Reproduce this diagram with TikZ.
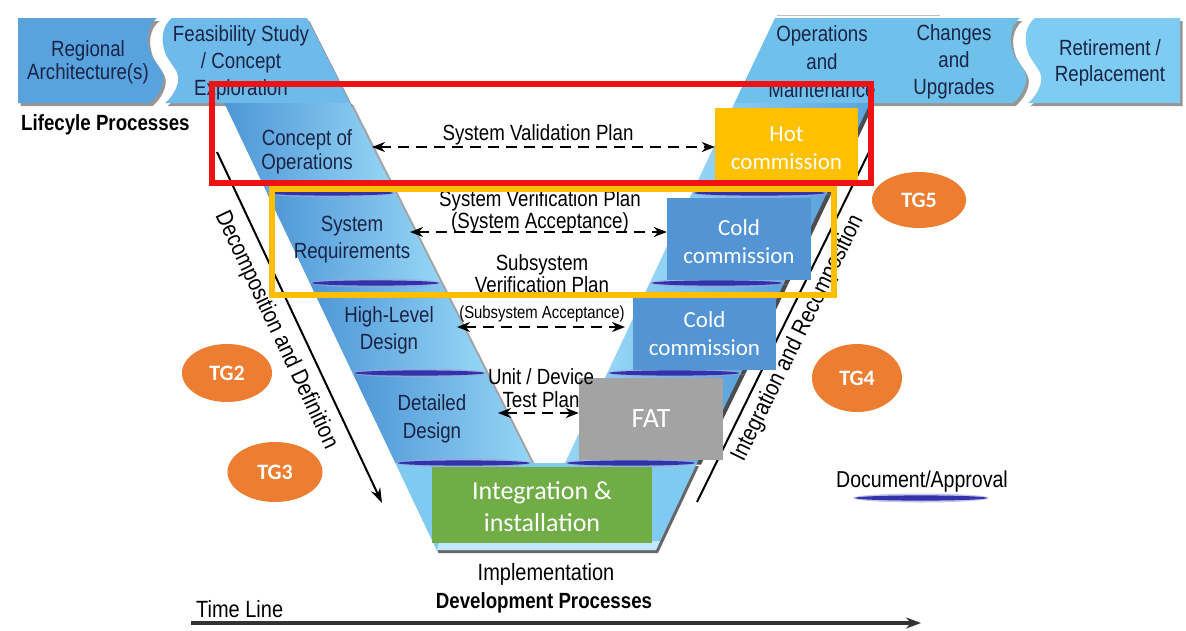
\documentclass[tikz,border=0pt]{standalone}
\usepackage{fontspec}
\setmainfont{Liberation Sans}[FakeStretch=0.85]
\newfontfamily\calibri{Carlito}
\usetikzlibrary{arrows.meta,shadows,shapes.geometric}

\definecolor{regBlue}{RGB}{88,162,222}
\definecolor{feasBlue}{RGB}{110,186,234}
\definecolor{opsBlue}{RGB}{112,192,236}
\definecolor{retBlue}{RGB}{126,204,241}
\definecolor{bandL}{RGB}{78,150,214}
\definecolor{bandR}{RGB}{150,214,246}
\definecolor{bandM}{RGB}{128,202,242}
\definecolor{navy}{RGB}{26,36,70}
\definecolor{docBlue}{RGB}{50,50,170}
\definecolor{hotY}{RGB}{255,192,0}
\definecolor{coldB}{RGB}{82,148,212}
\definecolor{fatG}{RGB}{163,163,163}
\definecolor{intG}{RGB}{112,173,71}
\definecolor{tgO}{RGB}{237,125,49}
\definecolor{frameRed}{RGB}{238,18,18}
\definecolor{frameGold}{RGB}{255,190,0}

% thin "document / approval" lens across a phase band
\newcommand\docmark[3]{%
  \fill[docBlue!45, opacity=.6] (#1,#2) ellipse [x radius=#3, y radius=4.5];
  \fill[docBlue] (#1,#2) ellipse [x radius={#3-2}, y radius=2.6];}
% invisible strut that lowers the text block inside a box
\newcommand\lowerstrut{\rule{0pt}{21pt}}

\tikzset{
  swave/.style={insert path={.. controls ({#1-10},26) and ({#1-12},40) .. ({#1-6},55)
      .. controls (#1,66) and ({#1+8},72) .. ({#1+6},82)
      .. controls ({#1+4},92) and ({#1-3},100) .. ({#1-7},103)}},
  banner/.style={drop shadow={shadow xshift=2.5pt,shadow yshift=-3pt,opacity=.55,fill=black!75}},
  segL/.style={left color=bandL, right color=bandR,
      drop shadow={shadow xshift=3pt,shadow yshift=-1.5pt,opacity=.45,fill=black!80}},
  segR/.style={left color=bandR, right color=bandL!80!bandR,
      drop shadow={shadow xshift=4pt,shadow yshift=-1.5pt,opacity=.7,fill=black}},
  lbl/.style={inner sep=0pt, align=center, text=navy, font=\fontsize{22}{#1}\selectfont},
  lbl/.default=27,
  plan/.style={inner sep=0pt, align=center, text=black, font=\fontsize{22}{#1}\selectfont},
  plan/.default=22,
  axislabel/.style={inner sep=0pt, text=black, font=\fontsize{23.5}{24}\selectfont},
  planarrow/.style={line width=2.4pt, dash pattern=on 11pt off 7pt,
      {Stealth[length=13pt,width=10pt]}-{Stealth[length=13pt,width=10pt]}},
  axisline/.style={line width=2pt, black},
  cbox/.style={inner sep=0pt, align=center, text=white, font=\calibri\fontsize{23}{28}\selectfont},
  tg/.style={ellipse, fill=tgO, inner sep=0pt, text=white, font=\calibri\bfseries\fontsize{22}{22}\selectfont},
  frame/.style={draw, inner sep=0pt, fill=none},
}

\begin{document}
\begin{tikzpicture}[x=1pt,y=-1pt]
\useasboundingbox[fill=white] (0,0) rectangle (1186,630);

% ---- time line ----
\coordinate (tl-start) at (191,623);
\coordinate (tl-end) at (921,623);
\draw[line width=3.5pt, black!80, -{Stealth[length=15pt,width=11pt]}] (tl-start) -- (tl-end);
\node[anchor=base west, inner sep=0pt, font=\fontsize{23.5}{24}\selectfont] (timeline) at (196,617) {Time Line};

% ---- lifecycle banners ----
\path[banner, fill=regBlue] (18,18) -- (157,18) [swave=157] -- (18,103) -- cycle;
\path[banner, fill=feasBlue] (172,18) [swave=172] -- (350,103) -- (307,18) -- cycle;
\path[banner, fill=opsBlue] (775,18) -- (1020,18) [swave=1020] -- (734.5,103) -- cycle;
\path[banner, fill=retBlue] (1035,18) [swave=1035] -- (1180,103) -- (1180,18) -- cycle;
\draw[black!25, line width=1pt] (777,15) -- (940,15);

\node[lbl=23] (regional) at (88,62) {Regional\\Architecture(s)};
\node[lbl] (feas) at (241,63) {Feasibility Study\\/ Concept\\Exploration};
\node[lbl=28] (ops) at (822,62) {Operations\\and\\Maintenance};
\node[lbl=27] (changes) at (954,61.5) {Changes\\and\\Upgrades};
\node[lbl=26] (retire) at (1110,63) {Retirement /\\Replacement};
\node[anchor=base west, inner sep=0pt, font=\bfseries\fontsize{22}{24}\selectfont] (lifecycle) at (21,130) {Lifecyle Processes};

% ---- left arm of the vee ----
\path[segL] (224.3,103) -- (350,103) -- (395.5,193) -- (267,193) -- cycle;
\path[segL] (267,193) -- (395.5,193) -- (441,283) -- (309.8,283) -- cycle;
\path[segL] (309.8,283) -- (441,283) -- (486.5,373) -- (352.5,373) -- cycle;
\path[segL] (352.5,373) -- (486.5,373) -- (532,463) -- (395.3,463) -- cycle;
% ---- right arm of the vee ----
\path[segR] (734.5,103) -- (870,103) -- (827,193) -- (692,193) -- cycle;
\path[segR] (692,193) -- (827,193) -- (784,283) -- (649.7,283) -- cycle;
\path[segR] (649.7,283) -- (784,283) -- (741,373) -- (607.3,373) -- cycle;
\path[segR] (607.3,373) -- (741,373) -- (697,463) -- (565,463) -- cycle;
% ---- bottom of the vee ----
\path[fill=bandM, drop shadow={shadow xshift=2pt,shadow yshift=-3pt,opacity=.6,fill=black}]
  (395.3,463) -- (697,463) -- (656,550) -- (436.6,550) -- cycle;
\fill[bandR!60!white] (440,541) -- (660,541) -- (656,550) -- (436.6,550) -- cycle;

% document / approval marks
\docmark{331.3}{193}{64}
\docmark{375.4}{283}{65.5}
\docmark{419.5}{373}{67}
\docmark{463.7}{463}{68}
\docmark{759.5}{193}{67.5}
\docmark{716.9}{283}{67}
\docmark{674.2}{373}{67}
\docmark{631}{463}{66}

% phase labels
\node[lbl=24] (conops) at (307,152) {Concept of\\Operations};
\node[lbl] (sysreq) at (352,240) {System\\Requirements};
\node[lbl] (hld) at (389,330) {High-Level\\Design};
\node[lbl=28] (dd) at (432,418.5) {Detailed\\Design};

% ---- decomposition / recomposition axes ----
\coordinate (dec-top) at (217,152);
\coordinate (dec-end) at (382,503);
\draw[axisline, -{Stealth[length=15pt,width=10pt]}] (dec-top) -- (dec-end);
\node[axislabel, rotate=-64.8] (dec-lbl) at (276,330) {Decomposition and Definition};

\coordinate (int-bot) at (697,502);
\coordinate (int-top) at (870,150);
\draw[axisline] (int-bot) -- (int-top);
\node[axislabel, rotate=63.8] (int-lbl) at (798,338) {Integration and Recomposition};

% ---- commissioning boxes ----
\node[cbox, fill=hotY, minimum width=143pt, minimum height=74pt] (hot) at (786.5,145) {\lowerstrut Hot\\commission};
\node[cbox, fill=coldB, minimum width=144pt, minimum height=82pt] (cold1) at (739,239) {\lowerstrut Cold\\commission};
\node[cbox, fill=coldB, minimum width=143pt, minimum height=72pt] (cold2) at (704.5,334) {Cold\\commission};
\node[cbox, fill=fatG, minimum width=144pt, minimum height=82pt, font=\calibri\fontsize{28}{30}\selectfont] (fat) at (651,419) {FAT};
\node[cbox, fill=intG, minimum width=220pt, minimum height=76pt, font=\calibri\fontsize{26}{32}\selectfont] (integ) at (542,505) {\lowerstrut Integration \&\\installation};

% ---- plans between the arms ----
\node[plan, anchor=base] (svp) at (538,140) {System Validation Plan};
\coordinate (svp-l) at (372,147);
\draw[planarrow] (svp-l) -- (hot.west |- svp-l);

\node[plan] (sverp) at (540,212) {System Verification Plan\\(System Acceptance)};
\coordinate (sverp-l) at (410,232);
\draw[planarrow] (sverp-l) -- (cold1.west |- sverp-l);

\node[plan] (ssvp) at (542,274) {Subsystem\\Verification Plan};
\node[plan, anchor=base, font=\fontsize{17.5}{20}\selectfont] (ssacc) at (542,318) {(Subsystem Acceptance)};
\coordinate (ssvp-l) at (457,327);
\coordinate (ssvp-r) at (625,327);
\draw[planarrow] (ssvp-l) -- (ssvp-r);

\node[plan=23] (unit) at (541,388.5) {Unit / Device\\Test Plan};
\coordinate (unit-l) at (498,413);
\draw[planarrow] (unit-l) -- (fat.west |- unit-l);

% ---- development labels ----
\node[anchor=base, inner sep=0pt, font=\fontsize{23.5}{24}\selectfont] (impl) at (546,580) {Implementation};
\node[anchor=base, inner sep=0pt, font=\bfseries\fontsize{22}{24}\selectfont] (devproc) at (544,608) {Development Processes};

% ---- toll gates ----
\node[tg, minimum width=94pt, minimum height=56pt] (tg5) at (919,200) {TG5};
\node[tg, minimum width=90pt, minimum height=68pt] (tg4) at (857,378) {TG4};
\node[tg, minimum width=90pt, minimum height=58pt] (tg2) at (227,373) {TG2};
\node[tg, minimum width=95pt, minimum height=60pt] (tg3) at (275,472) {TG3};

% ---- highlight frames ----
\node[frame, draw=frameRed, line width=6pt, minimum width=659pt, minimum height=99pt] (valframe) at (541.5,133.5) {};
\node[frame, draw=frameGold, line width=5.5pt, minimum width=562pt, minimum height=106pt] (verframe) at (553,242) {};

% ---- legend ----
\node[anchor=base, inner sep=0pt, font=\fontsize{23}{24}\selectfont] (legend) at (922,487) {Document/Approval};
\docmark{921}{498}{68}
\end{tikzpicture}
\end{document}
